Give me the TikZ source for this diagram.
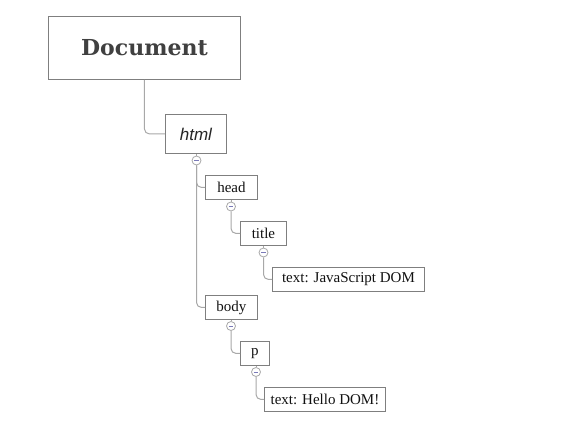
\documentclass[tikz,border=0pt]{standalone}
\usepackage{fontspec}
\setmainfont{Liberation Serif}
\newfontfamily\docfont{DejaVu Serif}
\newfontfamily\htmlfont{Liberation Sans}
\definecolor{boxline}{HTML}{7F7F7F}
\definecolor{conline}{HTML}{A8A8A8}
\definecolor{txt}{HTML}{111111}
\definecolor{minusc}{HTML}{7A7AB8}
\begin{document}
\begin{tikzpicture}[x=1pt,y=-1pt,
  box/.style={draw=boxline,line width=0.9pt,fill=white,text=txt,inner sep=0pt,anchor=north west},
  lbl/.style={font=\fontsize{15}{17}\selectfont},
  conn/.style={draw=conline,line width=1pt,rounded corners=5pt},
  toggle/.style={circle,draw=conline,fill=white,line width=0.8pt,minimum size=9pt,inner sep=0pt}]
\useasboundingbox (0,0) rectangle (574,432);
% boxes
\node[box,minimum width=192pt,minimum height=63pt,text=black!75] (doc) at (48,16) {\docfont\fontsize{22}{26}\selectfont\bfseries Document};
\node[box,minimum width=61pt,minimum height=39pt,text=black!85] (html) at (165,114) {\htmlfont\fontsize{17}{20}\selectfont\itshape html};
\node[box,lbl,minimum width=52pt,minimum height=24pt] (head) at (205,175) {head};
\node[box,lbl,minimum width=46pt,minimum height=24pt] (title) at (240,221) {title};
\node[box,lbl,minimum width=152pt,minimum height=24pt] (t1) at (272,267) {text: JavaScript DOM};
\node[box,lbl,minimum width=52pt,minimum height=24pt] (body) at (205,295) {body};
\node[box,lbl,minimum width=29pt,minimum height=24pt] (p) at (240,341) {p};
\node[box,lbl,minimum width=121pt,minimum height=24pt] (t2) at (264,387) {text: Hello DOM!};
% toggles
\node[toggle] (th) at (196.5,160.5) {};
\node[toggle] (thead) at (231,206.5) {};
\node[toggle] (ttitle) at (263.5,252.5) {};
\node[toggle] (tbody) at (231,326) {};
\node[toggle] (tp) at (256,372) {};
% connectors
\draw[conn] (doc.south) |- (html.west);
\draw[conn] (html.south -| th) -- (th.north);
\draw[conn] (th.south) |- (head.west);
\draw[conn] (th.south) |- (body.west);
\draw[conn] (head.south -| thead) -- (thead.north);
\draw[conn] (thead.south) |- (title.west);
\draw[conn] (title.south -| ttitle) -- (ttitle.north);
\draw[conn] (ttitle.south) |- (t1.west);
\draw[conn] (body.south -| tbody) -- (tbody.north);
\draw[conn] (tbody.south) |- (p.west);
\draw[conn] (p.south -| tp) -- (tp.north);
\draw[conn] (tp.south) |- (t2.west);
% minus signs
\foreach \t in {th,thead,ttitle,tbody,tp}{
  \draw[minusc,line width=0.9pt] ([xshift=-2.3pt]\t.center) -- ([xshift=2.3pt]\t.center);
}
\end{tikzpicture}
\end{document}
